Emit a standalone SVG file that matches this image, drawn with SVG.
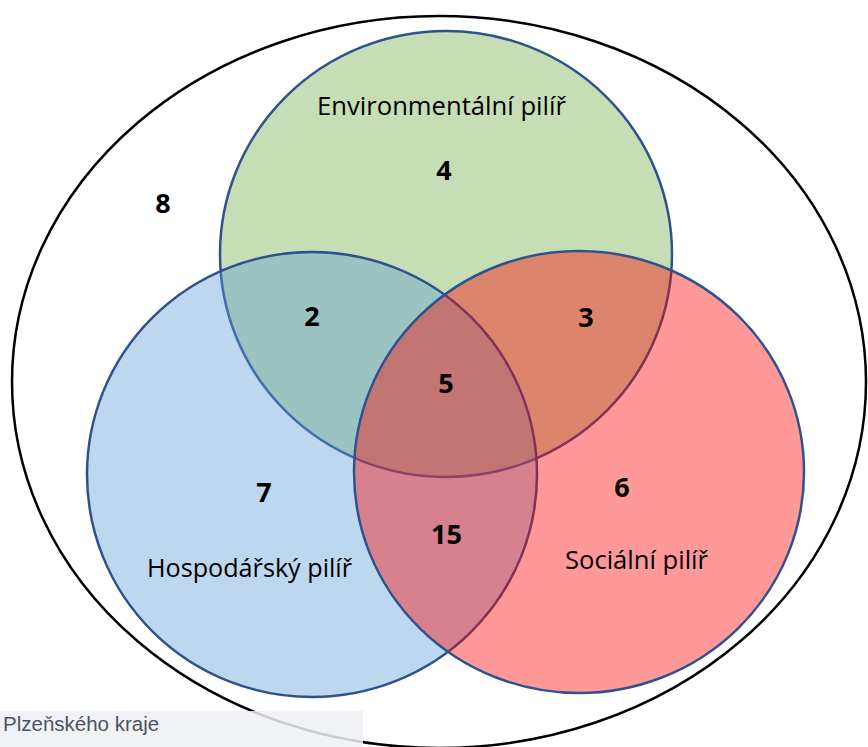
<svg xmlns="http://www.w3.org/2000/svg" width="868" height="747" viewBox="0 0 868 747">
<style>
.set{stroke:#2F528F;stroke-width:2.5}
.lbl{font-family:"Open Sans","Liberation Sans",sans-serif;font-size:25px;fill:#000;text-anchor:middle}
.num{font-family:"Open Sans","Liberation Sans",sans-serif;font-size:27px;font-weight:bold;fill:#000;text-anchor:middle}
</style>
<rect width="868" height="747" fill="#fff"/>
<g id="universe">
<ellipse cx="439" cy="382" rx="427" ry="366" fill="none" stroke="#000" stroke-width="2.5"/>
<text class="num" x="163" y="213">8</text>
</g>
<g id="environmental">
<ellipse class="set" cx="446" cy="254" rx="226" ry="223" fill="#70AD47" fill-opacity="0.4"/>
</g>
<g id="economic">
<ellipse class="set" cx="312" cy="474.5" rx="225" ry="222.5" fill="#5B9BD5" fill-opacity="0.4"/>
</g>
<g id="social">
<ellipse class="set" cx="579" cy="472" rx="225" ry="221" fill="#FF0000" fill-opacity="0.4"/>
</g>
<g id="labels">
<text class="lbl" x="441.5" y="115" textLength="249" lengthAdjust="spacingAndGlyphs">Environmentální pilíř</text>
<text class="lbl" x="249.5" y="577" textLength="205" lengthAdjust="spacingAndGlyphs">Hospodářský pilíř</text>
<text class="lbl" x="636.5" y="569" textLength="143" lengthAdjust="spacingAndGlyphs">Sociální pilíř</text>
<text class="num" x="444" y="180">4</text>
<text class="num" x="312" y="326">2</text>
<text class="num" x="586" y="327">3</text>
<text class="num" x="446" y="393">5</text>
<text class="num" x="264" y="502">7</text>
<text class="num" x="622" y="497">6</text>
<text class="num" x="446.5" y="544">15</text>
</g>
<g id="caption">
<rect x="0" y="711" width="363" height="36" fill="#EFF0F5" fill-opacity="0.85"/>
<text x="3" y="731" font-family="'Liberation Sans',Arial,sans-serif" font-size="20.5" fill="#4B5263">Plzeňského kraje</text>
</g>
</svg>
